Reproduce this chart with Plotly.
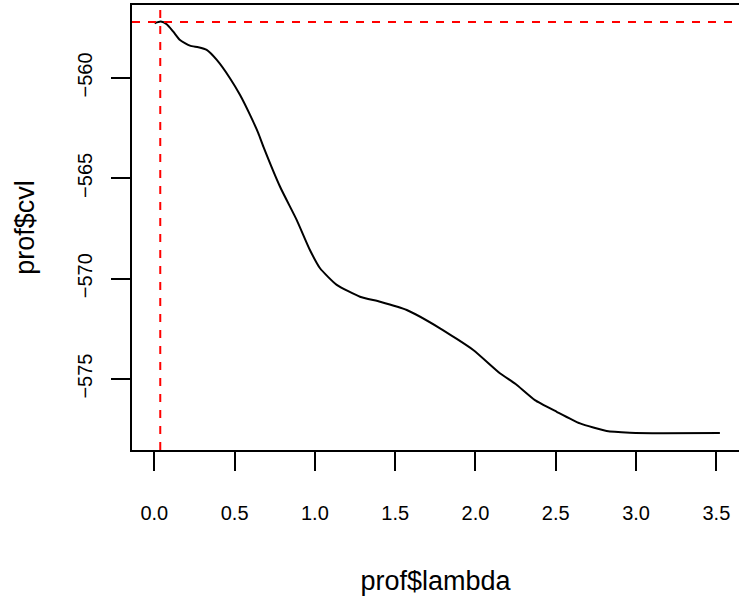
import plotly.graph_objects as go

# data
lam = [0.002, 0.040, 0.077, 0.118, 0.160, 0.222, 0.274, 0.326, 0.389, 0.471,
       0.534, 0.596, 0.648, 0.679, 0.783, 0.887, 0.969, 1.032, 1.136,
       1.281, 1.406, 1.572, 1.779, 1.986, 2.152, 2.250, 2.370, 2.506,
       2.651, 2.817, 2.962, 3.169, 3.522]
cvl = [-557.27, -557.19, -557.32, -557.69, -558.11, -558.39, -558.47, -558.60, -559.10, -560.01,
       -560.85, -561.84, -562.76, -563.42, -565.42, -567.08, -568.57, -569.48, -570.31,
       -570.90, -571.15, -571.56, -572.47, -573.55, -574.71, -575.25, -576.05, -576.63,
       -577.21, -577.59, -577.67, -577.70, -577.69]
best_lambda = 0.037
best_cvl = -557.21
x_ticks = [0.0, 0.5, 1.0, 1.5, 2.0, 2.5, 3.0, 3.5]
x_tick_labels = ["0.0", "0.5", "1.0", "1.5", "2.0", "2.5", "3.0", "3.5"]
y_ticks = [-575, -570, -565, -560]
y_tick_labels = ["\u2212575", "\u2212570", "\u2212565", "\u2212560"]

FONT = "Liberation Sans, Arial, sans-serif"

fig = go.Figure()
fig.add_trace(go.Scatter(x=lam, y=cvl, mode="lines",
                         line=dict(color="black", width=2, shape="spline", smoothing=0.5),
                         showlegend=False, hoverinfo="skip"))
fig.add_hline(y=best_cvl, line=dict(color="red", width=2, dash="8px,8px"))
fig.add_vline(x=best_lambda, line=dict(color="red", width=2, dash="8px,8px"))

fig.update_layout(
    width=739, height=607,
    margin=dict(l=132, r=0, t=5, b=157),
    paper_bgcolor="white", plot_bgcolor="white",
    font=dict(family=FONT, size=20, color="black"),
    xaxis=dict(range=[-0.139, 3.641], tickvals=x_ticks, ticktext=x_tick_labels,
               ticks="outside", ticklen=19, tickwidth=1.5, tickcolor="black",
               showline=True, linecolor="black", linewidth=1.5, mirror=True,
               showgrid=False, zeroline=False, ticklabelstandoff=25,
               title=dict(text="prof$lambda", standoff=48, font=dict(size=27))),
    yaxis=dict(range=[-578.535, -556.363], tickvals=y_ticks, ticktext=y_tick_labels,
               ticks="outside", ticklen=19, tickwidth=1.5, tickcolor="black",
               showline=True, linecolor="black", linewidth=1.5, mirror=False,
               showgrid=False, zeroline=False, tickangle=-90, ticklabelstandoff=11,
               title=dict(text="prof$cvl", standoff=32, font=dict(size=27))),
)

fig.write_html("out.html", config={"displayModeBar": False},
               post_script="document.body.style.margin='0';document.body.style.padding='0';")
